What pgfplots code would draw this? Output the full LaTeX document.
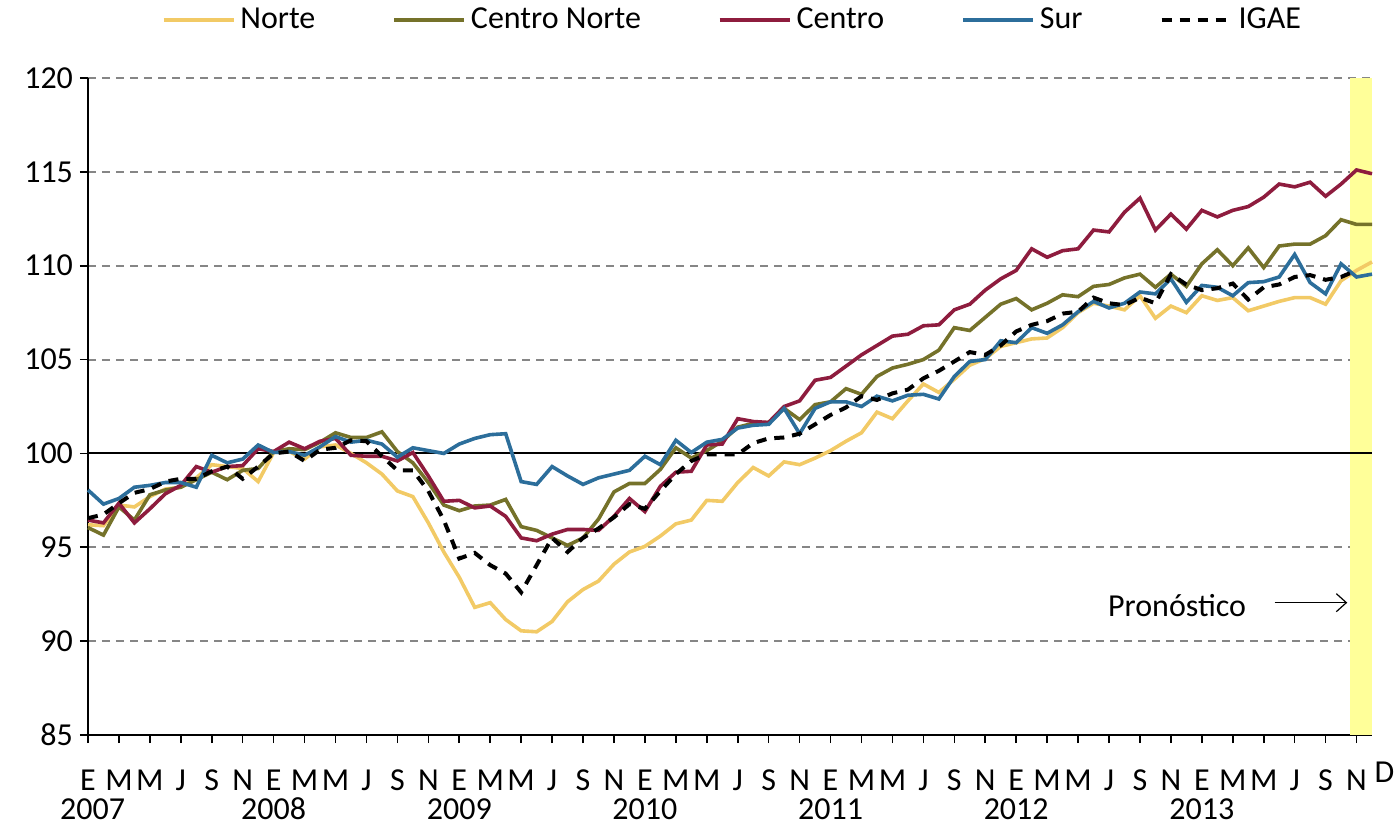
\documentclass[border=0pt]{standalone}
\usepackage{fontspec}
\setmainfont{Carlito}
\usepackage{pgfplots}
\usepackage{pgfplotstable}
\pgfplotsset{compat=1.18}
\usetikzlibrary{arrows.meta}
\definecolor{cNorte}{HTML}{F2CA66}
\definecolor{cCNorte}{HTML}{75722A}
\definecolor{cCentro}{HTML}{8E1C3E}
\definecolor{cSur}{HTML}{2C6E9B}
\definecolor{cBand}{HTML}{FFFF99}
\definecolor{cGrid}{HTML}{868686}

% indice mensual: 0 = enero 2007 ... 83 = diciembre 2013
\pgfplotstableread{
i norte cnorte centro sur igae
0 96.20 96.05 96.45 98.05 96.55
1 96.15 95.65 96.30 97.30 96.75
2 97.25 97.15 97.35 97.60 97.35
3 97.15 96.45 96.30 98.20 97.90
4 97.70 97.80 97.05 98.30 98.10
5 98.10 98.05 97.85 98.45 98.50
6 98.20 98.20 98.30 98.45 98.65
7 98.70 98.60 99.30 98.20 98.65
8 99.40 99.00 99.00 99.90 99.05
9 99.30 98.60 99.30 99.50 99.30
10 99.20 99.10 99.35 99.70 98.65
11 98.50 99.20 100.25 100.45 99.30
12 100.05 100.10 100.10 100.05 100.00
13 100.10 100.25 100.60 100.10 100.10
14 99.70 100.20 100.25 99.90 99.60
15 100.35 100.60 100.65 100.35 100.20
16 100.45 101.10 100.80 100.90 100.30
17 100.00 100.85 99.90 100.60 100.70
18 99.50 100.85 99.85 100.70 100.65
19 98.90 101.15 99.85 100.50 99.85
20 98.00 100.10 99.60 99.80 99.10
21 97.70 99.50 100.05 100.30 99.10
22 96.30 98.45 98.80 100.15 98.00
23 94.75 97.25 97.45 100.00 96.45
24 93.40 96.95 97.50 100.50 94.40
25 91.80 97.20 97.10 100.80 94.70
26 92.05 97.25 97.20 101.00 94.05
27 91.15 97.55 96.65 101.05 93.60
28 90.55 96.10 95.50 98.50 92.60
29 90.50 95.90 95.35 98.35 94.05
30 91.05 95.50 95.70 99.30 95.50
31 92.10 95.10 95.95 98.80 94.75
32 92.75 95.50 95.95 98.35 95.50
33 93.20 96.50 95.90 98.70 96.00
34 94.10 97.95 96.65 98.90 96.60
35 94.75 98.40 97.60 99.10 97.30
36 95.05 98.40 96.90 99.85 97.05
37 95.60 99.15 98.25 99.40 98.00
38 96.25 100.30 99.00 100.70 98.90
39 96.45 99.75 99.05 100.05 99.60
40 97.50 100.15 100.45 100.60 99.95
41 97.45 100.65 100.50 100.75 99.95
42 98.45 101.40 101.85 101.35 99.95
43 99.25 101.60 101.70 101.50 100.55
44 98.80 101.65 101.65 101.55 100.80
45 99.55 102.40 102.50 102.40 100.85
46 99.40 101.80 102.80 101.05 101.05
47 99.75 102.60 103.90 102.40 101.55
48 100.15 102.75 104.05 102.75 102.05
49 100.65 103.45 104.65 102.75 102.45
50 101.10 103.15 105.25 102.50 103.05
51 102.20 104.10 105.75 103.05 102.85
52 101.85 104.55 106.25 102.80 103.20
53 102.80 104.75 106.35 103.10 103.40
54 103.70 105.00 106.80 103.15 104.00
55 103.25 105.50 106.85 102.90 104.40
56 103.95 106.70 107.65 104.10 104.90
57 104.70 106.55 107.95 104.90 105.40
58 105.05 107.25 108.70 105.00 105.25
59 105.70 107.95 109.30 106.00 105.75
60 105.90 108.25 109.75 105.90 106.50
61 106.10 107.65 110.90 106.70 106.85
62 106.15 108.00 110.45 106.40 107.05
63 106.70 108.45 110.80 106.85 107.45
64 107.50 108.35 110.90 107.55 107.55
65 108.00 108.90 111.90 108.10 108.30
66 107.85 109.00 111.80 107.75 108.00
67 107.65 109.35 112.85 108.00 107.90
68 108.40 109.55 113.60 108.60 108.30
69 107.20 108.85 111.90 108.50 108.00
70 107.85 109.55 112.75 109.30 109.55
71 107.50 108.90 111.95 108.05 109.00
72 108.40 110.10 112.95 108.95 108.70
73 108.15 110.85 112.60 108.85 108.80
74 108.30 110.00 112.95 108.40 109.05
75 107.60 110.95 113.15 109.10 108.20
76 107.85 109.90 113.65 109.15 108.85
77 108.10 111.05 114.35 109.40 109.00
78 108.30 111.15 114.20 110.60 109.40
79 108.30 111.15 114.45 109.10 109.50
80 107.95 111.60 113.70 108.50 109.25
81 109.20 112.45 114.35 110.10 109.40
82 109.75 112.20 115.10 109.40 109.75
83 110.20 112.20 114.90 109.55 nan
}\regiones

\begin{document}
\begin{tikzpicture}[font=\fontsize{16}{19}\selectfont]
\useasboundingbox (-44pt,-48pt) rectangle (656pt,367.5pt);
\begin{axis}[
    at={(0,0)}, anchor=south west,
    scale only axis,
    width=642pt, height=328.5pt,
    xmin=0, xmax=83, ymin=85, ymax=120,
    axis x line*=bottom, axis y line*=left,
    axis line style={line width=1pt, black},
    tick align=outside,
    major tick length=4pt,
    tick style={black, line width=0.8pt},
    xtick={0,2,...,82},
    xticklabels={E,M,M,J,S,N,E,M,M,J,S,N,E,M,M,J,S,N,E,M,M,J,S,N,E,M,M,J,S,N,E,M,M,J,S,N,E,M,M,J,S,N},
    ytick={85,90,...,120},
    xticklabel style={anchor=base, yshift=-23.5pt},
    yticklabel style={anchor=east},
    /pgf/number format/assume math mode=true,
    tick label style={font=\fontsize{16}{19}\selectfont},
    ymajorgrids,
    grid style={cGrid, line width=1pt, dash pattern=on 4pt off 3pt},
    unbounded coords=discard,
    clip=false,
    every axis plot/.append style={line width=1.8pt},
    legend columns=5,
    legend style={at={(0.503,1.0883)}, anchor=center, draw=none, fill=none,
        font=\fontsize{16}{19}\selectfont,
        /tikz/every even column/.append style={column sep=36pt},
        nodes={inner xsep=2.5pt}},
    legend cell align=left,
    legend image code/.code={\draw[#1] (0pt,0pt) -- (35pt,0pt);},
]
\fill[cBand] (axis cs:81.6,85) rectangle (axis cs:83,120);
\draw[black, line width=1pt] (axis cs:0,100) -- (axis cs:83,100);

\addplot[cNorte] table[x=i, y=norte] {\regiones};
\addlegendentry{Norte}
\addplot[cCNorte] table[x=i, y=cnorte] {\regiones};
\addlegendentry{Centro Norte}
\addplot[cCentro] table[x=i, y=centro] {\regiones};
\addlegendentry{Centro}
\addplot[cSur] table[x=i, y=sur] {\regiones};
\addlegendentry{Sur}
\addplot[black, line width=2pt, dash pattern=on 5pt off 4pt] table[x=i, y=igae] {\regiones};
\addlegendentry{IGAE}

\node at (axis cs:70.4,91.9) {Pronóstico};
\draw[-{Straight Barb[length=5pt,width=9pt]}, line width=0.6pt] (axis cs:76.7,92.05) -- (axis cs:81.4,92.05);

\node[anchor=base, yshift=-23.5pt] at (axis cs:83.8,85) {D};
\node[anchor=base, yshift=-42pt] at (axis cs:0.3,85) {2007};
\node[anchor=base, yshift=-42pt] at (axis cs:12,85) {2008};
\node[anchor=base, yshift=-42pt] at (axis cs:24,85) {2009};
\node[anchor=base, yshift=-42pt] at (axis cs:36,85) {2010};
\node[anchor=base, yshift=-42pt] at (axis cs:48,85) {2011};
\node[anchor=base, yshift=-42pt] at (axis cs:60,85) {2012};
\node[anchor=base, yshift=-42pt] at (axis cs:72,85) {2013};
\end{axis}
\end{tikzpicture}
\end{document}
